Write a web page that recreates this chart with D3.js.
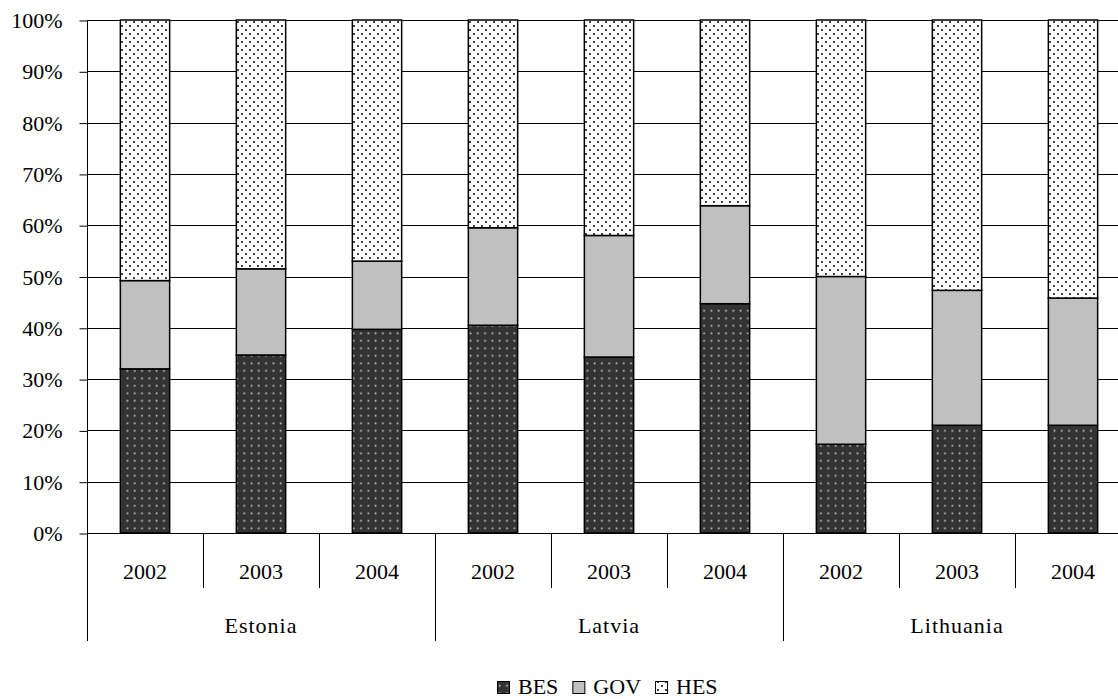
<!DOCTYPE html>
<html>
<head>
<meta charset="utf-8">
<script src="https://cdn.jsdelivr.net/npm/d3@7"></script>
<style>
  html, body { margin: 0; padding: 0; background: #fff; }
  svg text { font-family: "Liberation Serif", "Times New Roman", serif; fill: #000; }
</style>
</head>
<body>
<svg id="chart" width="1118" height="699"></svg>
<script>
// R&D expenditure shares by sector (percent of total)
const countries = ["Estonia", "Latvia", "Lithuania"];
const years = ["2002", "2003", "2004"];
const bes = [32.0, 34.7, 39.7, 40.5, 34.3, 44.7, 17.3, 21.0, 21.0];
const gov = [17.2, 16.8, 13.3, 19.0, 23.7, 19.1, 32.7, 26.3, 24.8];
const hes = [50.8, 48.5, 47.0, 40.5, 42.0, 36.2, 50.0, 52.7, 54.2];
const seriesNames = ["BES", "GOV", "HES"];
const yTicks = [0, 10, 20, 30, 40, 50, 60, 70, 80, 90, 100];

const svg = d3.select("#chart");
const plotL = 87, plotR = 1131, plotT = 20, plotB = 533;
const fontSize = 22;

// category list: one entry per country/year
const cats = [];
countries.forEach(c => years.forEach(y => cats.push({ country: c, year: y, key: c + "-" + y })));
const rows = cats.map((c, i) => ({ key: c.key, BES: bes[i], GOV: gov[i], HES: hes[i] }));

const x = d3.scaleBand().domain(cats.map(c => c.key)).range([plotL, plotR]).padding(0);
const y = d3.scaleLinear().domain([0, 100]).range([plotB, plotT]);
const barW = x.bandwidth() * 0.425;

// fill patterns
const defs = svg.append("defs");
const pBes = defs.append("pattern").attr("id", "pat-bes").attr("patternUnits", "userSpaceOnUse")
  .attr("width", 7.3).attr("height", 7.5);
pBes.append("rect").attr("width", 7.3).attr("height", 7.5).attr("fill", "#333");
pBes.append("rect").attr("x", 2.5).attr("y", 2.5).attr("width", 1.6).attr("height", 1.6).attr("fill", "#d8d8d8");

const pHes = defs.append("pattern").attr("id", "pat-hes").attr("patternUnits", "userSpaceOnUse")
  .attr("width", 8).attr("height", 8);
pHes.append("rect").attr("width", 8).attr("height", 8).attr("fill", "#fff");
pHes.append("rect").attr("x", 1).attr("y", 1).attr("width", 2).attr("height", 2).attr("fill", "#444");
pHes.append("rect").attr("x", 5).attr("y", 5).attr("width", 2).attr("height", 2).attr("fill", "#444");

const fills = { BES: "url(#pat-bes)", GOV: "#c0c0c0", HES: "url(#pat-hes)" };

// horizontal gridlines
svg.append("g").selectAll("line").data(yTicks).join("line")
  .attr("x1", plotL).attr("x2", plotR)
  .attr("y1", d => Math.round(y(d)) + 0.5).attr("y2", d => Math.round(y(d)) + 0.5)
  .attr("stroke", "#000").attr("stroke-width", 1);

// y axis with percent labels
const yAxis = d3.axisLeft(y).tickValues(yTicks).tickSize(8).tickPadding(17)
  .tickFormat(d => d + "%");
const gy = svg.append("g").attr("transform", `translate(${plotL + 0.5},0.5)`).call(yAxis);
gy.select(".domain").remove();
gy.selectAll(".tick line").attr("stroke", "#000");
gy.selectAll(".tick text").attr("font-size", fontSize);
svg.append("line").attr("x1", plotL + 0.5).attr("x2", plotL + 0.5).attr("y1", plotT).attr("y2", 641)
  .attr("stroke", "#000");

// stacked bars
const stack = d3.stack().keys(seriesNames);
const layers = stack(rows);
svg.append("g").selectAll("g").data(layers).join("g")
  .attr("fill", d => fills[d.key])
  .selectAll("rect").data(d => d).join("rect")
  .attr("x", d => x(d.data.key) + (x.bandwidth() - barW) / 2)
  .attr("width", barW)
  .attr("y", d => y(d[1]))
  .attr("height", d => y(d[0]) - y(d[1]))
  .attr("stroke", "#000").attr("stroke-width", 1.5);

// baseline
svg.append("line").attr("x1", plotL).attr("x2", plotR)
  .attr("y1", plotB + 0.5).attr("y2", plotB + 0.5).attr("stroke", "#000");

// category separators: short ones between years, long ones between countries
const sepG = svg.append("g");
cats.forEach((c, i) => {
  if (i === 0) return;
  const xs = Math.round(x(c.key)) + 0.5;
  const isCountry = i % years.length === 0;
  sepG.append("line").attr("x1", xs).attr("x2", xs)
    .attr("y1", plotB).attr("y2", isCountry ? 641 : 588)
    .attr("stroke", "#000");
});

// year labels
svg.append("g").selectAll("text").data(cats).join("text")
  .attr("x", d => x(d.key) + x.bandwidth() / 2)
  .attr("y", 579)
  .attr("text-anchor", "middle").attr("font-size", fontSize)
  .text(d => d.year);

// country labels
svg.append("g").selectAll("text").data(countries).join("text")
  .attr("x", (d, i) => {
    const a = x(cats[i * 3].key), b = x(cats[i * 3 + 2].key) + x.bandwidth();
    return (a + b) / 2;
  })
  .attr("y", 633)
  .attr("text-anchor", "middle").attr("font-size", fontSize).attr("letter-spacing", 1)
  .text(d => d);

// legend
const legend = svg.append("g");
let lx = 497;
seriesNames.forEach(name => {
  legend.append("rect").attr("x", lx + 0.5).attr("y", 681.5).attr("width", 12).attr("height", 12)
    .attr("fill", fills[name]).attr("stroke", "#000").attr("stroke-width", 1);
  const t = legend.append("text").attr("x", lx + 21).attr("y", 693.5).attr("font-size", fontSize).text(name);
  lx += 21 + t.node().getComputedTextLength() + 14;
});
</script>
</body>
</html>
